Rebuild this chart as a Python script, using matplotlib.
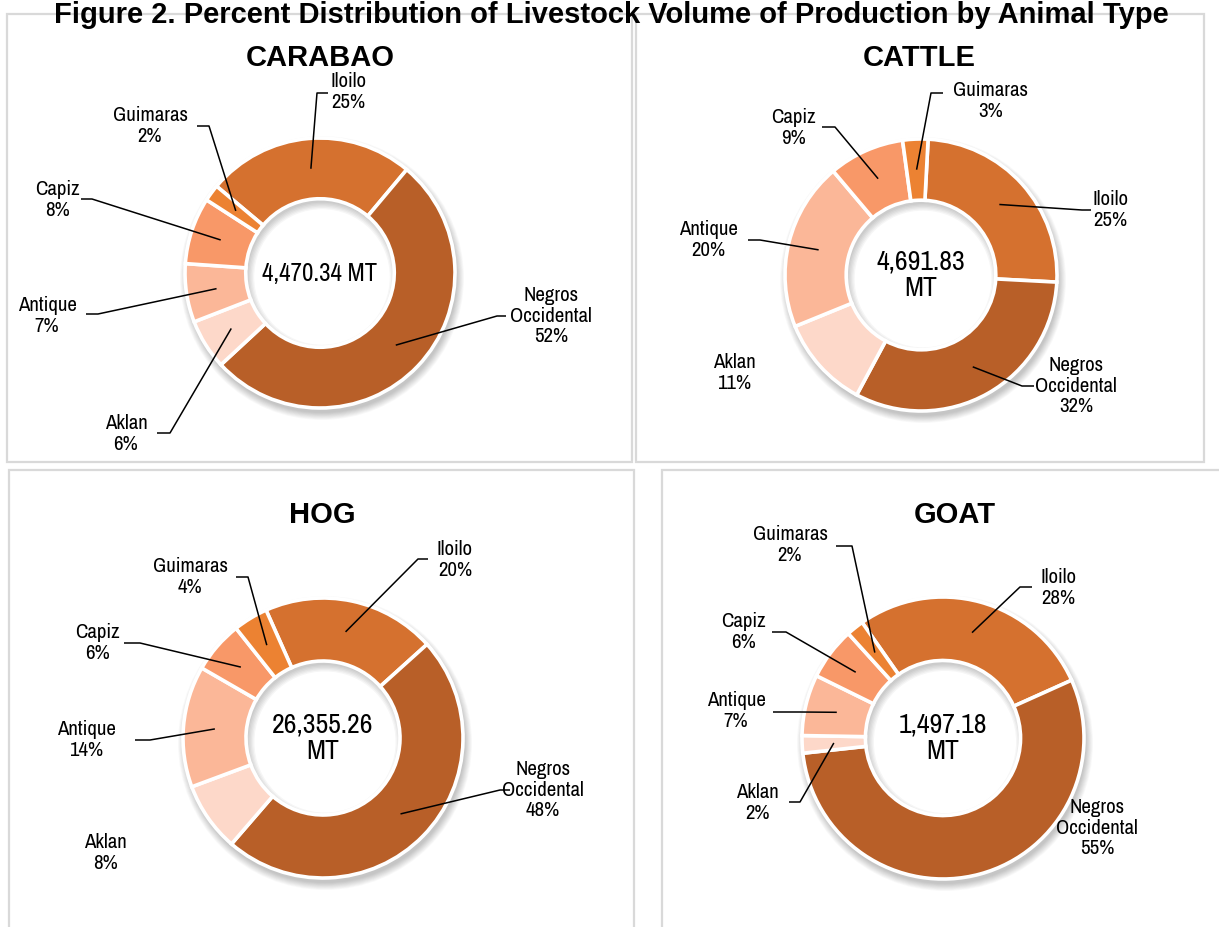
import numpy as np
import matplotlib
matplotlib.use('Agg')
import matplotlib.pyplot as plt
from matplotlib import font_manager
from matplotlib.patches import Circle, Wedge, Rectangle

# data
provinces = ['Iloilo', 'Negros\nOccidental', 'Aklan', 'Antique', 'Capiz', 'Guimaras']
carabao_pct = [25, 52, 6, 7, 8, 2]
cattle_pct = [25, 32, 11, 20, 9, 3]
hog_pct = [20, 48, 8, 14, 6, 4]
goat_pct = [28, 55, 2, 7, 6, 2]
animals = ['CARABAO', 'CATTLE', 'HOG', 'GOAT']
totals = ['4,470.34 MT', '4,691.83\nMT', '26,355.26\nMT', '1,497.18\nMT']
title = 'Figure 2. Percent Distribution of Livestock Volume of Production by Animal Type'

colors = ['#D5712F', '#B85F28', '#FDD8C9', '#FBB798', '#F89868', '#EC8232']

W, H = 1219, 927

# pick a narrow sans if one is installed (reference uses Arial Narrow)
installed = set(f.name for f in font_manager.fontManager.ttflist)
narrow_pref = ['Liberation Sans Narrow', 'Arial Narrow', 'Archivo Narrow', 'Roboto Condensed',
               'PT Sans Narrow', 'Open Sans Condensed', 'Encode Sans Condensed']
narrow = [n for n in narrow_pref if n in installed][:1]
NARROW = narrow + ['Liberation Sans', 'DejaVu Sans']
WIDE = ['Liberation Sans', 'DejaVu Sans']
scale = 1.0 if narrow else 0.82


def py(y):
    # image row -> data y
    return H - y


# layout in image pixels: centre, radius, start angle, title pos, label pos, elbow pts
panels = [
    dict(vals=carabao_pct, c=(320, 273), R=135, start=140, tpos=(320, 58), csize=18,
         labels=[(348, 92), (551, 316), (126, 434), (47, 316), (57, 200), (150, 126)],
         elbows=[((317, 93), (328, 93)), ((497, 316), (506, 316)), ((170, 433), (157, 433)),
                 ((98, 314), (86, 314)), ((92, 199), (81, 199)), ((209, 126), (197, 126))]),
    dict(vals=cattle_pct, c=(921, 275), R=136, start=87, tpos=(919, 58), csize=20,
         labels=[(1110, 210), (1076, 386), (734, 373), (708, 240), (793, 128), (991, 101)],
         elbows=[((1082, 210), (1091, 210)), ((1022, 386), (1034, 386)), None,
                 ((760, 240), (748, 240)), ((835, 127), (822, 127)), ((931, 93), (943, 93))]),
    dict(vals=hog_pct, c=(323, 738), R=140, start=114, tpos=(322, 515), csize=20,
         labels=[(455, 560), (543, 790), (105, 853), (86, 740), (97, 643), (190, 577)],
         elbows=[((418, 559), (428, 559)), ((500, 790), (510, 790)), None,
                 ((150, 740), (135, 740)), ((140, 643), (124, 643)), ((248, 577), (236, 577))]),
    dict(vals=goat_pct, c=(943, 738), R=141, start=125, tpos=(955, 515), csize=20,
         labels=[(1058, 588), (1097, 828), (757, 803), (736, 711), (743, 632), (790, 545)],
         elbows=[((1020, 587), (1032, 587)), None, ((800, 802), (789, 802)),
                 ((800, 712), (773, 712)), ((786, 632), (772, 632)), ((852, 546), (836, 546))]),
]

boxes = [(7, 14, 632, 462), (636, 14, 1204, 462), (9, 470, 634, 940), (662, 470, 1230, 940)]

fig = plt.figure(figsize=(W / 100, H / 100), dpi=100)
ax = fig.add_axes([0, 0, 1, 1])

for x0, y0, x1, y1 in boxes:
    ax.add_patch(Rectangle((x0, py(y1)), x1 - x0, y1 - y0, fill=False,
                           ec='#D9D9D9', lw=1.6, zorder=0))

for i, p in enumerate(panels):
    cx, cy = p['c'][0], py(p['c'][1])
    R = p['R']
    r_in = 0.55 * R

    # soft drop shadow
    for k in range(10):
        ax.add_patch(Circle((cx + 2, cy - 5), R + 7 - k * 0.8, fc='black',
                            alpha=0.022, lw=0, zorder=1))
    ax.add_patch(Circle((cx, cy), r_in, fc='white', lw=0, zorder=1.5))

    wedges, _ = ax.pie(p['vals'], colors=colors, startangle=p['start'], counterclock=False,
                       radius=R, center=(cx, cy),
                       wedgeprops=dict(width=R - r_in, edgecolor='white', linewidth=2.6))
    for w in wedges:
        w.set_zorder(2)

    # inner (inset) shadow of the hole
    hole = Circle((cx, cy), r_in, transform=ax.transData)
    for k in range(6):
        ring = Wedge((cx + 2, cy - 4), r_in + 12, 0, 360, width=12 + k * 1.3,
                     fc='black', alpha=0.035, lw=0, zorder=1.8)
        ax.add_patch(ring)
        ring.set_clip_path(hole)

    ax.text(cx, cy, totals[i], ha='center', va='center', fontsize=p['csize'] * scale,
            family=NARROW, linespacing=1.1, zorder=3)
    ax.text(p['tpos'][0], py(p['tpos'][1]), animals[i], ha='center', va='center',
            fontsize=21, fontweight='bold', family=WIDE, zorder=3)

    r_mid = (R + r_in) / 2
    for j, w in enumerate(wedges):
        lx, ly = p['labels'][j]
        ax.text(lx, py(ly), '{}\n{}%'.format(provinces[j], p['vals'][j]), ha='center',
                va='center', fontsize=15 * scale, family=NARROW, linespacing=1.1, zorder=3)
        el = p['elbows'][j]
        if el is None:
            continue
        mid = np.deg2rad((w.theta1 + w.theta2) / 2)
        ax_, ay_ = cx + r_mid * np.cos(mid), cy + r_mid * np.sin(mid)
        xs = [ax_, el[0][0], el[1][0]]
        ys = [ay_, py(el[0][1]), py(el[1][1])]
        ax.plot(xs, ys, color='black', lw=1.1, zorder=4, solid_capstyle='butt')

ax.text(W / 2 + 2, py(1), title, ha='center', va='top', fontsize=21,
        fontweight='bold', family=WIDE, zorder=5)

ax.set_xlim(0, W)
ax.set_ylim(0, H)
ax.set_aspect('auto')
ax.axis('off')
fig.savefig('out.png', dpi=100)
